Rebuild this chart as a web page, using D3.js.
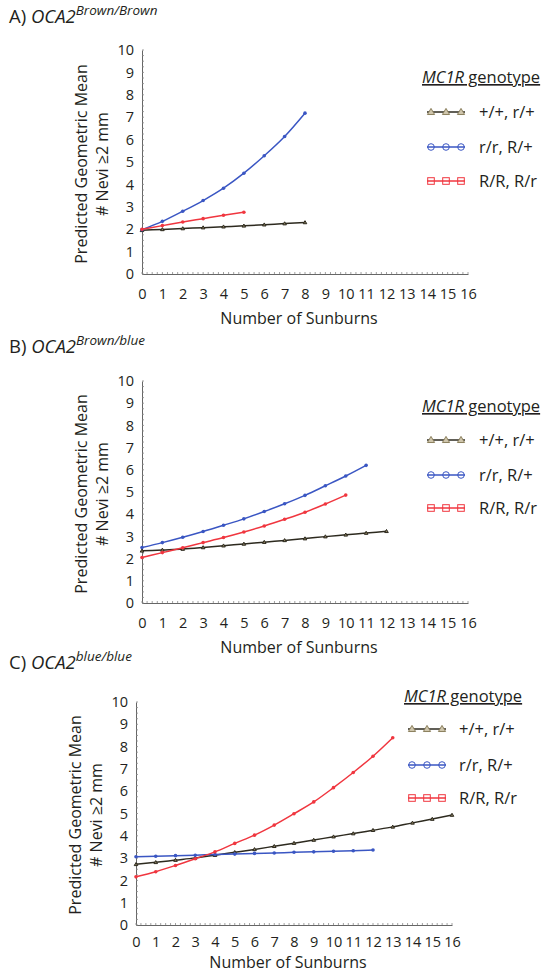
<!DOCTYPE html>
<html>
<head>
<meta charset="utf-8">
<script src="https://cdn.jsdelivr.net/npm/d3@7"></script>
<style>
  body { margin: 0; background: #fff; }
  text { font-family: "Open Sans", "Noto Sans", sans-serif; fill: #231f20; }
</style>
</head>
<body>
<div id="chart"></div>
<script>
// genotype groups (legend labels)
const genotypes = ['+/+, r/+', 'r/r, R/+', 'R/R, R/r']
const yTicks = [0, 1, 2, 3, 4, 5, 6, 7, 8, 9, 10]
const xTicks = d3.range(0, 17)

// panel A: OCA2 Brown/Brown
const aWild = [1.95, 1.99, 2.03, 2.07, 2.11, 2.15, 2.2, 2.25, 2.3]
const aRed = [1.98, 2.35, 2.8, 3.28, 3.83, 4.5, 5.28, 6.14, 7.18]
const aRR = [2.0, 2.16, 2.32, 2.47, 2.62, 2.76]

// panel B: OCA2 Brown/blue
const bWild = [2.35, 2.39, 2.43, 2.5, 2.58, 2.66, 2.74, 2.82, 2.9, 2.99, 3.07, 3.15, 3.23]
const bRed = [2.5, 2.72, 2.96, 3.22, 3.5, 3.79, 4.12, 4.47, 4.85, 5.28, 5.72, 6.2]
const bRR = [2.05, 2.27, 2.49, 2.72, 2.95, 3.2, 3.47, 3.77, 4.09, 4.46, 4.86]

// panel C: OCA2 blue/blue
const cWild = [2.72, 2.81, 2.91, 3.01, 3.13, 3.26, 3.39, 3.53, 3.67, 3.81, 3.96, 4.1, 4.25, 4.4, 4.58, 4.75, 4.93]
const cRed = [3.06, 3.08, 3.11, 3.13, 3.16, 3.18, 3.21, 3.23, 3.26, 3.28, 3.31, 3.33, 3.36]
const cRR = [2.16, 2.39, 2.67, 2.97, 3.28, 3.66, 4.03, 4.48, 4.99, 5.52, 6.16, 6.84, 7.57, 8.4]

const colors = ['#2d2a1f', '#3a56c3', '#f0363f']
const markerColors = ['#8c805e', '#3a56c3', '#f0363f']

const W = 547, H = 975
const svg = d3.select('#chart').append('svg')
  .attr('width', W)
  .attr('height', H)

const panels = [
  { letter: 'A)', sup: 'Brown/Brown', series: [aWild, aRed, aRR],
    x0: 142, x1: 468, yTop: 50, yBot: 274, titleY: 23, tickDy: 26, labDy: 50,
    ylabX: 81, ylabY: 164, legX: 422, legY: 83, itemY: [112, 147, 181], symX: 427, txtX: 479 },
  { letter: 'B)', sup: 'Brown/blue', series: [bWild, bRed, bRR],
    x0: 142, x1: 468, yTop: 381, yBot: 603, titleY: 353, tickDy: 26, labDy: 50,
    ylabX: 81, ylabY: 494, legX: 422, legY: 412, itemY: [440, 475, 508], symX: 427, txtX: 479 },
  { letter: 'C)', sup: 'blue/blue', series: [cWild, cRed, cRR],
    x0: 136, x1: 452, yTop: 702, yBot: 925, titleY: 669, tickDy: 23, labDy: 43,
    ylabX: 75, ylabY: 815, legX: 404, legY: 702, itemY: [729, 765, 798], symX: 408, txtX: 459 }
]

// little marker shapes
function marker(g, kind, x, y, size, color, fill) {
  if (kind === 0) {
    const s = size
    g.append('path')
      .attr('d', `M${x},${y - s}L${x + s},${y + s * 0.7}L${x - s},${y + s * 0.7}Z`)
      .attr('fill', fill).attr('stroke', color).attr('stroke-width', 1)
  } else if (kind === 1) {
    g.append('circle').attr('cx', x).attr('cy', y).attr('r', size)
      .attr('fill', fill).attr('stroke', color).attr('stroke-width', 1)
  } else {
    g.append('rect').attr('x', x - size).attr('y', y - size)
      .attr('width', size * 2).attr('height', size * 2)
      .attr('fill', fill).attr('stroke', color).attr('stroke-width', 1)
  }
}

panels.forEach(function(p) {
  const g = svg.append('g')

  const x = d3.scaleLinear().domain([0, 16]).range([p.x0, p.x1])
  const y = d3.scaleLinear().domain([0, 10]).range([p.yBot, p.yTop])

  // panel title
  const t = g.append('text').attr('x', 9).attr('y', p.titleY).style('font-size', '18.5px')
  t.append('tspan').text(p.letter + ' ')
  t.append('tspan').style('font-style', 'italic').text('OCA2')
  t.append('tspan').style('font-style', 'italic').style('font-size', '13.5px')
    .attr('dy', -8).text(p.sup)

  // y axis
  const yAxis = g.append('g')
    .attr('transform', 'translate(' + p.x0 + ',0)')
    .call(d3.axisLeft(y).tickValues(yTicks).tickSize(0).tickPadding(8))
  yAxis.select('.domain').attr('stroke', '#666').attr('stroke-width', 1)
  yAxis.selectAll('text').style('font-size', '14.5px').attr('fill', '#231f20')
    .style('font-family', '"Open Sans", sans-serif')

  // x axis
  const xAxis = g.append('g')
    .attr('transform', 'translate(0,' + p.yBot + ')')
    .call(d3.axisBottom(x).tickValues(xTicks).tickSize(0).tickPadding(p.tickDy - 11))
  xAxis.select('.domain').attr('stroke', '#666').attr('stroke-width', 1)
  xAxis.selectAll('text').style('font-size', '14.5px').attr('fill', '#231f20')
    .style('font-family', '"Open Sans", sans-serif')

  // minor ticks (give the axes their dotted look)
  g.append('g').selectAll('line')
    .data(d3.range(0, 10.01, 0.25))
    .enter().append('line')
    .attr('x1', p.x0).attr('x2', p.x0 + 2)
    .attr('y1', d => y(d)).attr('y2', d => y(d))
    .attr('stroke', '#888').attr('stroke-width', 0.8)
  g.append('g').selectAll('line')
    .data(d3.range(0, 16.01, 0.25))
    .enter().append('line')
    .attr('x1', d => x(d)).attr('x2', d => x(d))
    .attr('y1', p.yBot).attr('y2', p.yBot - 2)
    .attr('stroke', '#888').attr('stroke-width', 0.8)

  // axis titles
  g.append('text')
    .attr('x', (p.x0 + p.x1) / 2 - 6).attr('y', p.yBot + p.labDy)
    .attr('text-anchor', 'middle').style('font-size', '16px')
    .text('Number of Sunburns')
  g.append('text')
    .attr('transform', 'translate(' + p.ylabX + ',' + p.ylabY + ') rotate(-90)')
    .attr('text-anchor', 'middle').attr('dy', '0.35em').style('font-size', '16px')
    .text('Predicted Geometric Mean')
  g.append('text')
    .attr('transform', 'translate(' + (p.ylabX + 21) + ',' + p.ylabY + ') rotate(-90)')
    .attr('text-anchor', 'middle').attr('dy', '0.35em').style('font-size', '16px')
    .text('# Nevi \u22652 mm')

  // series lines
  const line = d3.line()
    .x((d, i) => x(i))
    .y(d => y(d))
    .curve(d3.curveMonotoneX)

  p.series.forEach(function(vals, k) {
    g.append('path')
      .datum(vals)
      .attr('d', line)
      .attr('fill', 'none')
      .attr('stroke', colors[k])
      .attr('stroke-width', 1.5)
    const mg = g.append('g')
    vals.forEach(function(v, i) {
      if (k === 0) marker(mg, 0, x(i), y(v), 1.8, colors[0], markerColors[0])
      else mg.append('circle').attr('cx', x(i)).attr('cy', y(v)).attr('r', 1.8)
        .attr('fill', colors[k])
    })
  })

  // legend
  const lg = g.append('g')
  const head = lg.append('text').attr('x', p.legX).attr('y', p.legY)
    .style('font-size', '16.5px').style('text-decoration', 'underline')
  head.append('tspan').style('font-style', 'italic').text('MC1R')
  head.append('tspan').text(' genotype')

  genotypes.forEach(function(name, k) {
    const cy = p.itemY[k]
    lg.append('line')
      .attr('x1', p.symX).attr('x2', p.symX + 38)
      .attr('y1', cy).attr('y2', cy)
      .attr('stroke', colors[k])
      .attr('stroke-width', 1.3)
    ;[4, 19, 34].forEach(function(dx) {
      marker(lg, k, p.symX + dx, cy, k === 0 ? 3.6 : 3.3, markerColors[k], k === 0 ? '#cfc6ad' : 'none')
    })
    lg.append('text')
      .attr('x', p.txtX).attr('y', cy).attr('dy', '0.35em')
      .style('font-size', '16.5px')
      .text(name)
  })
})
</script>
</body>
</html>
